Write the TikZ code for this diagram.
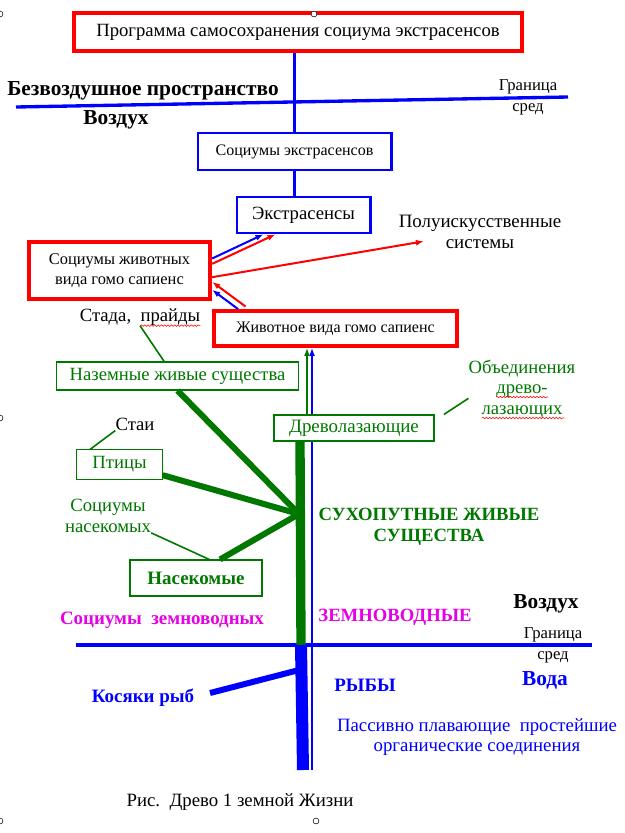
\documentclass[tikz,border=0pt]{standalone}
\usepackage{fontspec}
\setmainfont{Liberation Serif}
\usetikzlibrary{arrows.meta,decorations.pathmorphing,backgrounds}
\definecolor{tblue}{RGB}{0,0,255}
\definecolor{tgreen}{RGB}{0,120,0}
\definecolor{tred}{RGB}{255,0,0}
\definecolor{tmag}{RGB}{230,0,230}
\newcommand{\fsz}[1]{\fontsize{#1}{15.5}\selectfont}

\begin{document}
\begin{tikzpicture}[x=0.75pt,y=-0.75pt,
  redbox/.style={draw=tred,line width=3pt,fill=white,inner sep=0pt},
  bluebox/.style={draw=tblue,line width=2pt,fill=white,inner sep=0pt},
  greenbox/.style={draw=tgreen,line width=0.8pt,fill=white,inner sep=0pt,text=tgreen},
  lbl/.style={inner sep=0pt,align=center},
  twig/.style={tgreen,line width=1.2pt},
  bough/.style={tgreen,line width=4.5pt},
  arr/.style={line width=1.5pt,-{Latex[length=6pt,width=4.5pt]}},
  wavy/.style={tred,line width=0.4pt,decorate,decoration={snake,amplitude=0.6pt,segment length=2.5pt}},
  handle/.style={draw=black,fill=white,line width=0.4pt}]
  \useasboundingbox (0,0) rectangle (625,833);

  % boxes
  \node[redbox,minimum width=336pt,minimum height=28.5pt,font=\fsz{14}] (prog) at (298,32) {Программа самосохранения социума экстрасенсов};
  \node[bluebox,minimum width=145pt,minimum height=27.75pt,font=\fsz{12}] (socext) at (294.5,151.5) {Социумы экстрасенсов};
  \node[bluebox,minimum width=100pt,minimum height=27pt,font=\fsz{14}] (ext) at (303.5,215) {Экстрасенсы};
  \node[redbox,minimum width=136pt,minimum height=43pt,align=center,font=\fsz{12.3}] (socgomo) at (119.5,270.5) {Социумы животных\\вида гомо сапиенс};
  \node[redbox,minimum width=182pt,minimum height=26pt,font=\fsz{12}] (gomo) at (335.5,328.5) {Животное вида гомо сапиенс};
  \node[greenbox,minimum width=181pt,minimum height=21pt,font=\fsz{14}] (land) at (177.5,376) {Наземные живые существа};
  \node[greenbox,minimum width=120pt,minimum height=19.5pt,font=\fsz{14.2}] (climb) at (354,428) {Древолазающие};
  \node[greenbox,minimum width=64pt,minimum height=22pt,font=\fsz{14}] (birds) at (119.5,464.5) {Птицы};
  \node[greenbox,minimum width=99pt,minimum height=27pt,font=\bfseries\fsz{14.2}] (insects) at (196,578) {Насекомые};

  % labels
  \node[lbl,font=\bfseries\fsz{16}] (vacuum) at (143,91) {Безвоздушное пространство};
  \node[lbl,font=\bfseries\fsz{16}] (air1) at (116,120) {Воздух};
  \node[lbl,font=\fsz{12.5}] (edge1) at (528,97) {Граница\\сред};
  \node[lbl,font=\fsz{14.2}] (semi) at (480,232) {Полуискусственные\\системы};
  \node[lbl,font=\fsz{14}] (herds) at (140,317) {Стада,~~прайды};
  \node[lbl,text=tgreen,font=\fsz{14}] (unions) at (522,389) {Объединения\\древо-\\лазающих};
  \node[lbl,font=\fsz{14}] (flocks) at (135,424) {Стаи};
  \node[lbl,text=tgreen,font=\fsz{14}] (socins) at (108,516) {Социумы\\насекомых};
  \node[lbl,text=tgreen,font=\bfseries\fsz{14}] (dry) at (429,527) {СУХОПУТНЫЕ ЖИВЫЕ\\СУЩЕСТВА};
  \node[lbl,text=tmag,font=\bfseries\fsz{14}] (amph) at (395,617) {ЗЕМНОВОДНЫЕ};
  \node[lbl,text=tmag,font=\bfseries\fsz{14.2}] (socamph) at (162,620) {Социумы~~земноводных};
  \node[lbl,font=\bfseries\fsz{16}] (air2) at (546,604) {Воздух};
  \node[lbl,font=\fsz{12.5}] (edge2) at (553,645) {Граница\\сред};
  \node[lbl,text=tblue,font=\bfseries\fsz{16}] (water) at (545,680) {Вода};
  \node[lbl,text=tblue,font=\bfseries\fsz{14.2}] (fish) at (365,685) {РЫБЫ};
  \node[lbl,text=tblue,font=\bfseries\fsz{14.2}] (shoals) at (143,698) {Косяки рыб};
  \node[lbl,text=tblue,font=\fsz{14.1}] (passive) at (477,737) {Пассивно плавающие~~простейшие\\органические соединения};
  \node[lbl,font=\fsz{14.1}] (caption) at (240,802) {Рис.~~Древо 1 земной Жизни};

  % tree points
  \coordinate (fork) at (299,514);
  \coordinate (shore) at (301,645);
  \coordinate (root) at (303,770);
  \coordinate (seabed) at (312,770);
  \coordinate (climbtop) at (307,415);
  \coordinate (gill) at (299,670);
  \coordinate (shoalend) at (210,693);

  \begin{scope}[on background layer]
    \fill[white] (0,0) rectangle (625,833);
    \draw[arr,tblue] (seabed) -- (seabed |- gomo.south);
  \end{scope}

  % borders of media
  \draw[tblue,line width=2.5pt] (16,107) -- (568,97);
  \draw[tblue,line width=2.5pt] (76,645) -- (592,645);

  % upper stem
  \draw[tblue,line width=2.5pt] (socext.north) -- (socext.north |- prog.south);
  \draw[tblue,line width=2.5pt] (socext.south) -- (socext.south |- ext.north);

  % arrows between boxes
  \draw[arr,tblue] ([yshift=9pt]socgomo.east) -- ([xshift=21pt]ext.south west);
  \draw[arr,tred] ([yshift=5pt]socgomo.east) -- ([xshift=30pt]ext.south west);
  \draw[arr,tred] ([yshift=-5pt]socgomo.east) -- ([xshift=19pt,yshift=-7pt]semi.west);
  \draw[arr,tblue] ([xshift=19.5pt]gomo.north west) -- ([yshift=-14.5pt]socgomo.east);
  \draw[arr,tred] ([xshift=25pt,yshift=2pt]gomo.north west) -- ([yshift=-8.5pt]socgomo.east);
  \draw[arr,tgreen] (climbtop) -- (climbtop |- gomo.south);

  % trunk
  \draw[tgreen,line width=7pt] (climb.south -| 300,0) -- (shore);
  \draw[tblue,line width=9pt] (shore) -- (root);

  % boughs
  \draw[bough] (land.south) -- (fork);
  \draw[bough] ([yshift=-8pt]birds.east) -- (fork);
  \draw[bough] ([xshift=18pt]insects.north) -- (fork);
  \draw[tblue,line width=4.5pt] (shoalend) -- (gill);

  % twigs
  \draw[twig] (herds.south) -- ([xshift=-10pt]land.north);
  \draw[twig] ([xshift=-22pt]birds.north) -- (flocks.south west);
  \draw[twig] (socins.south east) -- ([xshift=10pt]insects.north);
  \draw[twig] ([xshift=7pt]climb.north east) -- ([yshift=-7pt]unions.west);

  % spell marks
  \draw[wavy] ([xshift=-45pt]herds.south east) -- (herds.south east);
  \draw[wavy] (496,397) -- (548,397);
  \draw[wavy] (482,418) -- (564,418);

  % handles
  \foreach \hx/\hy in {314/14,0/14,0/418,0/821,316/821}
    \draw[handle] (\hx,\hy) circle[radius=2.2pt];
\end{tikzpicture}
\end{document}
